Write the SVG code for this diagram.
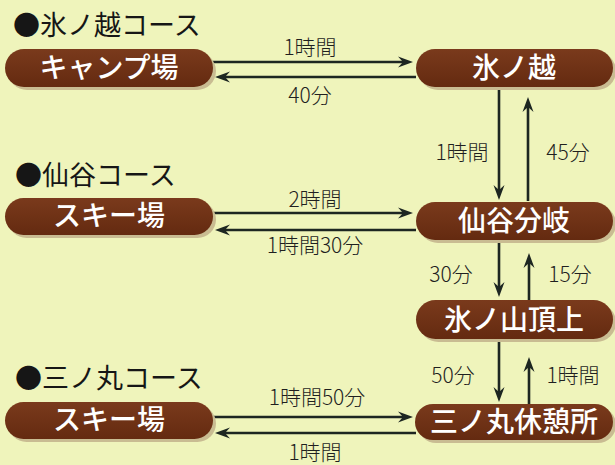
<svg xmlns="http://www.w3.org/2000/svg" width="615" height="465" viewBox="0 0 615 465">
  <style>
    .hdr { font-family: "Noto Sans CJK JP", "Noto Sans", sans-serif; font-size: 27px; fill: #161616; }
    .pill { fill: url(#pg); }
    .shd { fill: #c9bc92; }
    .nt { font-family: "Noto Sans CJK JP", "Noto Sans", sans-serif; font-size: 28px; font-weight: 500; fill: #ffffff; text-anchor: middle; }
    .lbl { font-family: "Noto Sans CJK JP", "Noto Sans", sans-serif; font-size: 21px; font-weight: 300; fill: #1f1f1f; text-anchor: middle; }
    .ln { stroke: #1d2621; stroke-width: 2.6; fill: none; marker-end: url(#ah); }
  </style>
  <defs>
    <linearGradient id="pg" x1="0" y1="0" x2="0" y2="1">
      <stop offset="0" stop-color="#7a3a1c"/>
      <stop offset="1" stop-color="#642a10"/>
    </linearGradient>
    <marker id="ah" markerUnits="userSpaceOnUse" markerWidth="20" markerHeight="14" viewBox="-16 -7 20 14" refX="-8" refY="0" orient="auto" overflow="visible">
      <path d="M0,0 L-15,-5.5 L-10,0 L-15,5.5 Z" fill="#1d2621"/>
    </marker>
  </defs>
  <rect width="615" height="465" fill="#eff4bb"/>

  <g id="headers">
    <text class="hdr" x="13" y="35">●氷ノ越コース</text>
    <text class="hdr" x="15" y="185">●仙谷コース</text>
    <text class="hdr" x="15" y="388">●三ノ丸コース</text>
  </g>

  <g id="connectors">
    <line class="ln" x1="213" y1="62" x2="405" y2="62"/>
    <line class="ln" x1="416" y1="77" x2="223" y2="77"/>
    <line class="ln" x1="499" y1="90" x2="499" y2="192"/>
    <line class="ln" x1="528" y1="201" x2="528" y2="105"/>
    <line class="ln" x1="213" y1="213" x2="405" y2="213"/>
    <line class="ln" x1="416" y1="230" x2="223" y2="230"/>
    <line class="ln" x1="499" y1="240" x2="499" y2="289"/>
    <line class="ln" x1="529" y1="300" x2="529" y2="261"/>
    <line class="ln" x1="499" y1="340" x2="499" y2="394"/>
    <line class="ln" x1="529" y1="404" x2="529" y2="365"/>
    <line class="ln" x1="213" y1="417" x2="405" y2="417"/>
    <line class="ln" x1="416" y1="433" x2="223" y2="433"/>
    <text class="lbl" x="310" y="55">1時間</text>
    <text class="lbl" x="310" y="103">40分</text>
    <text class="lbl" x="462" y="160">1時間</text>
    <text class="lbl" x="568" y="160">45分</text>
    <text class="lbl" x="315" y="207">2時間</text>
    <text class="lbl" x="315" y="253">1時間30分</text>
    <text class="lbl" x="451" y="282">30分</text>
    <text class="lbl" x="570" y="282">15分</text>
    <text class="lbl" x="453" y="383">50分</text>
    <text class="lbl" x="573" y="383">1時間</text>
    <text class="lbl" x="317" y="405">1時間50分</text>
    <text class="lbl" x="315" y="460">1時間</text>
  </g>

  <g id="n-camp">
    <rect class="shd" x="8" y="52" width="208" height="38" rx="19"/>
    <rect class="pill" x="5" y="49" width="208" height="38" rx="19"/>
    <text class="nt" x="109" y="78">キャンプ場</text>
  </g>
  <g id="n-hyonosen">
    <rect class="shd" x="419" y="52" width="197" height="38" rx="19"/>
    <rect class="pill" x="416" y="49" width="197" height="38" rx="19"/>
    <text class="nt" x="514" y="78">氷ノ越</text>
  </g>
  <g id="n-ski1">
    <rect class="shd" x="8" y="201" width="208" height="37" rx="18.5"/>
    <rect class="pill" x="5" y="198" width="208" height="37" rx="18.5"/>
    <text class="nt" x="109" y="226">スキー場</text>
  </g>
  <g id="n-sendani">
    <rect class="shd" x="419" y="205" width="197" height="38" rx="19"/>
    <rect class="pill" x="416" y="202" width="197" height="38" rx="19"/>
    <text class="nt" x="514" y="231">仙谷分岐</text>
  </g>
  <g id="n-summit">
    <rect class="shd" x="419" y="303" width="197" height="39" rx="19.5"/>
    <rect class="pill" x="416" y="300" width="197" height="39" rx="19.5"/>
    <text class="nt" x="514" y="330">氷ノ山頂上</text>
  </g>
  <g id="n-ski2">
    <rect class="shd" x="8" y="405" width="208" height="37" rx="18.5"/>
    <rect class="pill" x="5" y="402" width="208" height="37" rx="18.5"/>
    <text class="nt" x="109" y="430">スキー場</text>
  </g>
  <g id="n-sannomaru">
    <rect class="shd" x="418" y="407" width="198" height="36" rx="18"/>
    <rect class="pill" x="415" y="404" width="198" height="36" rx="18"/>
    <text class="nt" x="514" y="432">三ノ丸休憩所</text>
  </g>
</svg>
